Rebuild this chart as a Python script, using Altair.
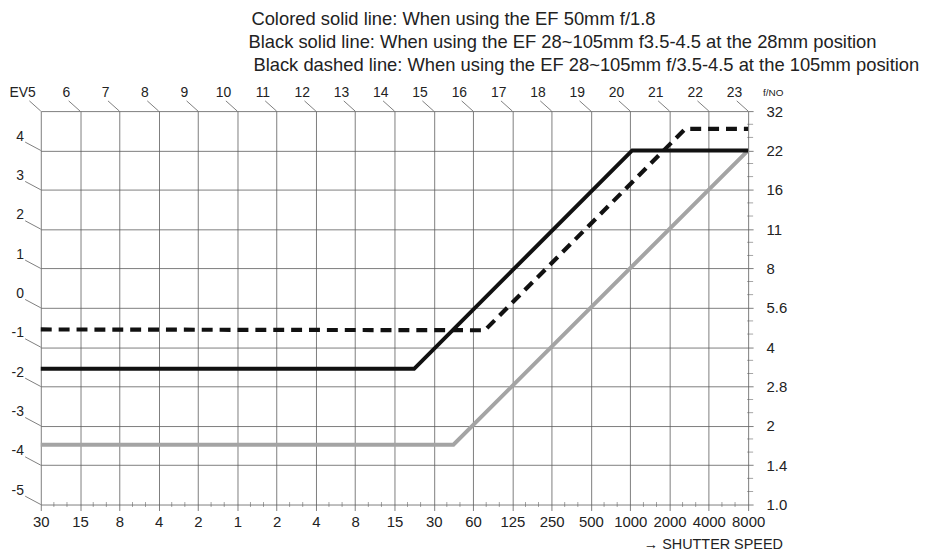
import json
import altair as alt
import pandas as pd

# ---------------- data ----------------
shutter_labels = ["30", "15", "8", "4", "2", "1", "2", "4", "8", "15", "30",
                  "60", "125", "250", "500", "1000", "2000", "4000", "8000"]
fno_labels = ["1.0", "1.4", "2", "2.8", "4", "5.6", "8", "11", "16", "22", "32"]
ev_left_labels = ["-5", "-4", "-3", "-2", "-1", "0", "1", "2", "3", "4"]
ev_corner_label = "EV5"
ev_top_labels = ["6", "7", "8", "9", "10", "11", "12", "13", "14", "15", "16",
                 "17", "18", "19", "20", "21", "22", "23"]
header_lines = [
    "Colored solid line: When using the EF 50mm f/1.8",
    "Black solid line: When using the EF 28~105mm f3.5-4.5 at the 28mm position",
    "Black dashed line: When using the EF 28~105mm f/3.5-4.5 at the 105mm position",
]

# program lines, in stop units (x: shutter-speed stop index, y: aperture stop index)
colored_x = [0, 10.5, 18]
colored_y = [1.52, 1.52, 9.0]
solid_x = [0, 9.5, 15.05, 18]
solid_y = [3.45, 3.45, 9.0, 9.0]
dashed_x = [0, 11.3, 16.4, 18]
dashed_y = [4.45, 4.43, 9.55, 9.55]

# ---------------- styling ----------------
W, H = 712, 396
FONT = "Liberation Sans"
TXT = "#222222"
GRID = "#5e5e5e"
n_x = len(shutter_labels) - 1
n_y = len(fno_labels) - 1
xs = alt.Scale(domain=[0, n_x], nice=False, zero=False)
ys = alt.Scale(domain=[0, n_y], nice=False, zero=False)

x_expr = json.dumps(shutter_labels) + "[datum.value]"
y_expr = json.dumps(fno_labels) + "[datum.value]"

x_axis = alt.Axis(
    values=list(range(n_x + 1)), labelExpr=x_expr, grid=True,
    gridColor=GRID, gridWidth=0.8, tickColor=GRID, tickSize=6, tickWidth=0.8,
    domain=False, labelFontSize=15, labelFont=FONT, labelColor=TXT,
    labelPadding=4, labelFlush=False, labelOverlap=False, title=None)
y_axis = alt.Axis(
    orient="right", values=list(range(n_y + 1)), labelExpr=y_expr, grid=True,
    gridColor=GRID, gridWidth=0.8, tickColor=GRID, tickSize=5, tickWidth=0.8,
    domain=False, labelFontSize=15, labelFont=FONT, labelColor=TXT,
    labelPadding=13, labelAlign="left", labelBaseline="middle",
    labelFlush=False, labelOverlap=False, title=None)


def X():
    return alt.X("x:Q", scale=xs, axis=x_axis)


def Y():
    return alt.Y("y:Q", scale=ys, axis=y_axis)


# minor (1/3 stop) ticks
minor_x = pd.DataFrame({"x": [i + k / 3 for i in range(n_x) for k in (1, 2)], "y": 0})
minor_y = pd.DataFrame({"y": [j + k / 3 for j in range(n_y) for k in (1, 2)], "x": n_x})
mx = alt.Chart(minor_x).mark_tick(orient="vertical", size=5, thickness=0.8, color=GRID).encode(x=X(), y=Y())
my = alt.Chart(minor_y).mark_tick(orient="horizontal", size=6, thickness=0.8, color=GRID,
                                  xOffset=2).encode(x=X(), y=Y())

# EV leaders (short diagonal stubs) and labels
left_df = pd.DataFrame({"y": list(range(len(ev_left_labels))), "t": ev_left_labels})
left_df["x"] = 0
left_df["x2"] = -0.397
left_df["y2"] = left_df["y"] + 0.212
top_df = pd.DataFrame({"x": list(range(n_x + 1)), "t": [ev_corner_label] + ev_top_labels})
top_df["y"] = n_y
top_df["x2"] = top_df["x"] - 0.29
top_df["y2"] = n_y + 0.26

lead_l = alt.Chart(left_df).mark_rule(color=GRID, strokeWidth=0.8).encode(
    x=X(), y=Y(), x2="x2:Q", y2="y2:Q")
lead_t = alt.Chart(top_df).mark_rule(color=GRID, strokeWidth=0.8).encode(
    x=X(), y=Y(), x2="x2:Q", y2="y2:Q")
lab_l = alt.Chart(left_df).mark_text(align="right", baseline="middle", dx=-17, dy=-14,
                                     fontSize=14, font=FONT, color=TXT).encode(
    x=X(), y=Y(), text="t:N")
lab_t = alt.Chart(top_df[top_df["x"] > 0]).mark_text(align="center", baseline="middle", dx=-13.8, dy=-18,
                                                     fontSize=14, font=FONT, color=TXT).encode(
    x=X(), y=Y(), text="t:N")
lab_c = alt.Chart(top_df[top_df["x"] == 0]).mark_text(align="right", baseline="middle", dx=-5, dy=-18,
                                                      fontSize=14, font=FONT, color=TXT).encode(
    x=X(), y=Y(), text="t:N")


# program lines
def prog(xv, yv):
    return pd.DataFrame({"x": xv, "y": yv, "o": list(range(len(xv)))})


l_col = alt.Chart(prog(colored_x, colored_y)).mark_line(color="#a4a4a4", strokeWidth=4).encode(
    x=X(), y=Y(), order="o:Q")
l_sol = alt.Chart(prog(solid_x, solid_y)).mark_line(color="#111111", strokeWidth=4).encode(
    x=X(), y=Y(), order="o:Q")
l_dash = alt.Chart(prog(dashed_x, dashed_y)).mark_line(
    color="#111111", strokeWidth=4.2, strokeDash=[11, 7]).encode(x=X(), y=Y(), order="o:Q")

# header and extra texts (positions in pixels relative to the plot area)
hdr_df = pd.DataFrame({"t": header_lines, "i": [0, 1, 2]})
hdr_pos = [(212, -93), (209, -69.5), (214, -46)]
hdr_layers = [
    alt.Chart(hdr_df).transform_filter(alt.datum.i == k).mark_text(
        align="left", baseline="middle", fontSize=18.5, font=FONT, color=TXT).encode(
        x=alt.value(px), y=alt.value(py), text="t:N")
    for k, (px, py) in enumerate(hdr_pos)
]
fno_t = alt.Chart(pd.DataFrame({"t": ["f/NO"]})).mark_text(
    align="left", baseline="middle", fontSize=10, font=FONT, color=TXT).encode(
    x=alt.value(727), y=alt.value(-18), text="t:N")
ss_t = alt.Chart(pd.DataFrame({"t": ["\u2192 SHUTTER SPEED"]})).mark_text(
    align="right", baseline="middle", fontSize=14.5, font=FONT, color=TXT).encode(
    x=alt.value(747), y=alt.value(437), text="t:N")

chart = alt.layer(mx, my, lead_l, lead_t, lab_l, lab_t, lab_c,
                  l_col, l_sol, l_dash, *hdr_layers, fno_t, ss_t).properties(
    width=W, height=H,
    autosize=alt.AutoSizeParams(type="none"),
    padding={"left": 33, "top": 102, "right": 175, "bottom": 46},
    background="white",
).configure_view(stroke=None)

chart.save("out.html", embed_options={"renderer": "svg", "actions": False})
